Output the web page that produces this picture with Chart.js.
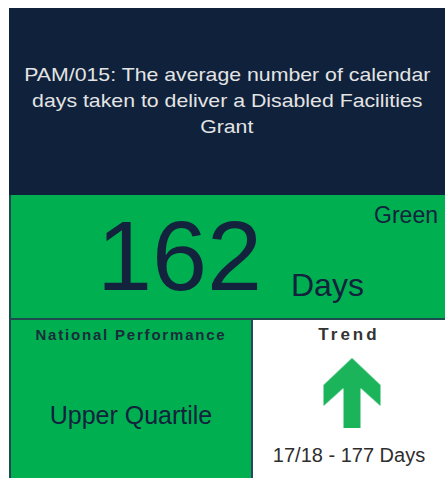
<!DOCTYPE html>
<html>
<head>
<meta charset="utf-8">
<script src="https://cdn.jsdelivr.net/npm/chart.js@4.4.1/dist/chart.umd.min.js"></script>
<style>
  body { margin: 0; background: #fff; font-family: "Liberation Sans", Arial, sans-serif; }
  .box { position: absolute; box-sizing: border-box; }
  #top { left: 9px; top: 8px; width: 436px; height: 187px; background: #0f213b; }
  #mid { left: 9px; top: 195px; width: 436px; height: 125px; background: #00b050; border-left: 2px solid #1f4a50; border-bottom: 2px solid #1f4a50; }
  #natl { left: 9px; top: 320px; width: 244px; height: 158px; background: #00b050; border-left: 2px solid #1f4a50; border-right: 2px solid #2b4560; }
  #trend { left: 253px; top: 322px; width: 192px; height: 156px; background: #fff; }
  .t { position: absolute; white-space: nowrap; }
  #title { left: 9px; width: 436px; top: 62px; text-align: center; color: #e4e4e4; font-size: 19px; line-height: 26px; }
  #title span { display: inline-block; transform: scaleX(1.12); }
  #value { left: 97px; top: 206px; font-size: 99px; line-height: 1; color: #13223d; }
  #unit { left: 291px; top: 267px; font-size: 32px; line-height: 1.15; color: #13223d; }
  #rag { right: 7px; top: 202px; font-size: 23px; color: #13223d; }
  #natlHead { left: 9px; width: 244px; top: 326px; text-align: center; font-size: 15px; font-weight: bold; letter-spacing: 1.8px; color: #1b2d3a; }
  #natlVal { left: 9px; width: 244px; top: 401px; text-align: center; font-size: 25px; color: #13223d; }
  #trendHead { left: 253px; width: 192px; top: 325px; text-align: center; font-size: 17px; font-weight: bold; letter-spacing: 3px; color: #333; }
  #trendVal { left: 253px; width: 192px; top: 444px; text-align: center; font-size: 20px; color: #2e2e2e; }
  #arrowWrap { position: absolute; left: 312px; top: 353px; width: 80px; height: 80px; }
</style>
</head>
<body>
<div class="box" id="top"></div>
<div class="box" id="mid"></div>
<div class="box" id="natl"></div>
<div class="box" id="trend"></div>

<div class="t" id="title"><span>PAM/015: The average number of calendar</span><br><span>days taken to deliver a Disabled Facilities</span><br><span>Grant</span></div>
<div class="t" id="value"></div>
<div class="t" id="unit"></div>
<div class="t" id="rag"></div>
<div class="t" id="natlHead">National Performance</div>
<div class="t" id="natlVal"></div>
<div class="t" id="trendHead">Trend</div>
<div class="t" id="trendVal"></div>
<div id="arrowWrap"><canvas id="arrowChart"></canvas></div>

<script>
// KPI values
const currentValue = 162;
const previousValue = 177;
const previousPeriod = "17/18";
const unitLabel = "Days";
const ragStatus = "Green";
const nationalQuartile = "Upper Quartile";

document.getElementById("value").textContent = currentValue;
document.getElementById("unit").textContent = unitLabel;
document.getElementById("rag").textContent = ragStatus;
document.getElementById("natlVal").textContent = nationalQuartile;
document.getElementById("trendVal").textContent = previousPeriod + " - " + previousValue + " " + unitLabel;

// fewer days is better, so a drop means improving (arrow up)
const improving = currentValue < previousValue;

// arrow glyph used as the point style
function makeArrow() {
  const c = document.createElement("canvas");
  c.width = 59;
  c.height = 70;
  const ctx = c.getContext("2d");
  ctx.fillStyle = "#1bb45a";
  ctx.beginPath();
  ctx.moveTo(29.5, 0);
  ctx.lineTo(58, 27);
  ctx.lineTo(58, 48);
  ctx.lineTo(38, 30);
  ctx.lineTo(38, 70);
  ctx.lineTo(21, 70);
  ctx.lineTo(21, 30);
  ctx.lineTo(1, 48);
  ctx.lineTo(1, 27);
  ctx.closePath();
  ctx.fill();
  return c;
}

new Chart(document.getElementById("arrowChart"), {
  type: "scatter",
  data: {
    datasets: [{
      data: [{ x: 0, y: 0 }],
      pointStyle: makeArrow(),
      pointRadius: 10,
      pointRotation: improving ? 0 : 180,
      clip: false
    }]
  },
  options: {
    responsive: true,
    maintainAspectRatio: false,
    animation: false,
    events: [],
    layout: { padding: 0 },
    scales: {
      x: { display: false, min: -1, max: 1 },
      y: { display: false, min: -1, max: 1 }
    },
    plugins: {
      legend: { display: false },
      tooltip: { enabled: false }
    }
  }
});
</script>
</body>
</html>
